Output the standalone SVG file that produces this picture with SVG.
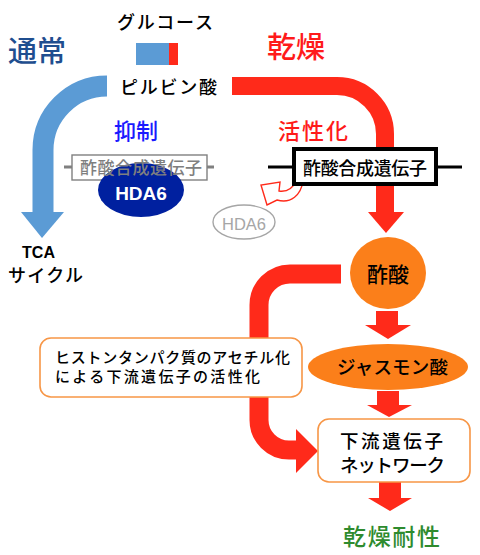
<svg xmlns="http://www.w3.org/2000/svg" width="480" height="555" viewBox="0 0 480 555">
<style>
.jp{font-family:"Noto Sans CJK JP","Noto Sans",sans-serif;font-weight:500;}
.lat{font-family:"Liberation Sans","Noto Sans",sans-serif;}
.band{fill:none;stroke-linecap:butt;}
.red{fill:#ff2a1a;}
.obox{fill:#fff;stroke:#f79646;stroke-width:1.6;}
.orange{fill:#fb7f1a;}
</style>
<rect width="480" height="555" fill="#fff"/>
<g id="labels">
<text class="jp" x="37" y="62" font-size="29" fill="#1f4e8f" text-anchor="middle">通常</text>
<text class="jp" x="296" y="58" font-size="29" fill="#ff1a1a" text-anchor="middle">乾燥</text>
<text class="jp" x="136" y="139" font-size="22" fill="#1a1aff" text-anchor="middle">抑制</text>
<text class="jp" x="313" y="139" font-size="22" fill="#ff1a1a" text-anchor="middle" textLength="70">活性化</text>
</g>
<g id="connectors">
<path class="band" d="M107,86 A64,64 0 0 0 43,150 L43,213" stroke="#5b9bd5" stroke-width="21"/>
<polygon points="21,212 64,212 42,238" fill="#5b9bd5"/>
<path class="band" d="M232,86 L337,86 A48,48 0 0 1 385,134 L385,213" stroke="#ff2a1a" stroke-width="18"/>
<polygon class="red" points="368,212 404,212 386,233"/>
<path class="band" d="M341,274 L290,274 A31,31 0 0 0 259,305 L259,420 A30,30 0 0 0 289,450 L297,450" stroke="#ff2a1a" stroke-width="19"/>
<polygon class="red" points="296,429 296,473 318,451"/>
<rect class="red" x="376" y="311" width="22" height="14"/>
<polygon class="red" points="365,325 411,325 388,339"/>
<rect class="red" x="377" y="391" width="22" height="14"/>
<polygon class="red" points="367,405 412,405 389,417"/>
<rect class="red" x="379" y="482" width="22" height="16"/>
<polygon class="red" points="368,498 412,498 390,511"/>
<path d="M303,181 C301,195 291,204 277,200 L267,205 L261,185 L280,182 L279,191 C287,192 293,188 296,181" fill="#fff" stroke="#ff2a1a" stroke-width="1.4"/>
</g>
<g id="glucose">
<text class="jp" x="165" y="29" font-size="18" text-anchor="middle" textLength="96">グルコース</text>
<rect x="136" y="43" width="33" height="22" fill="#5b9bd5"/>
<rect x="169" y="43" width="9" height="22" fill="#ff2a1a"/>
</g>
<g id="pyruvate">
<text class="jp" x="168.5" y="94" font-size="18" text-anchor="middle" textLength="97">ピルビン酸</text>
</g>
<g id="gene-normal">
<line x1="64" y1="167" x2="214" y2="167" stroke="#808080" stroke-width="3"/>
<rect x="72" y="155" width="135" height="25" fill="#fff" stroke="#808080" stroke-width="1.4"/>
</g>
<g id="hda6-bound">
<ellipse cx="141" cy="190" rx="43" ry="27" fill="#00209f"/>
<text class="lat" x="141" y="200" font-size="19" font-weight="bold" fill="#fff" text-anchor="middle">HDA6</text>
</g>
<text class="jp" x="141" y="174" font-size="17" fill="#7f7f7f" text-anchor="middle" textLength="122">酢酸合成遺伝子</text>
<g id="tca">
<text class="lat" x="38.5" y="258" font-size="16" font-weight="bold" text-anchor="middle">TCA</text>
<text class="jp" x="45.5" y="282" font-size="18" text-anchor="middle" textLength="75">サイクル</text>
</g>
<g id="gene-drought">
<line x1="268" y1="167" x2="462" y2="167" stroke="#000" stroke-width="3"/>
<rect x="294" y="149" width="142" height="35" fill="#fff" stroke="#000" stroke-width="4"/>
<text class="jp" x="365" y="175" font-size="18" text-anchor="middle" textLength="124">酢酸合成遺伝子</text>
</g>
<g id="hda6-released">
<ellipse cx="244" cy="222" rx="31" ry="17" fill="#fff" stroke="#a6a6a6" stroke-width="1.4"/>
<text class="lat" x="244" y="230" font-size="16.5" fill="#a6a6a6" text-anchor="middle">HDA6</text>
</g>
<g id="acetate">
<ellipse class="orange" cx="388" cy="273" rx="38" ry="36"/>
<text class="jp" x="388" y="282" font-size="21" text-anchor="middle">酢酸</text>
</g>
<g id="jasmonate">
<ellipse class="orange" cx="388" cy="367" rx="80" ry="23"/>
<text class="jp" x="392.5" y="374" font-size="18.5" text-anchor="middle" textLength="111">ジャスモン酸</text>
</g>
<g id="acetylation">
<rect class="obox" x="40" y="338" width="262" height="59" rx="11"/>
<text class="jp" x="55" y="363" font-size="15" textLength="235">ヒストンタンパク質のアセチル化</text>
<text class="jp" x="55" y="382" font-size="15" textLength="205">による下流遺伝子の活性化</text>
</g>
<g id="downstream">
<rect class="obox" x="318" y="419" width="152" height="63" rx="11"/>
<text class="jp" x="340" y="448" font-size="18.5" textLength="103">下流遺伝子</text>
<text class="jp" x="340" y="472" font-size="18.5" textLength="105">ネットワーク</text>
</g>
<g id="tolerance">
<text class="jp" x="391.5" y="545" font-size="23" fill="#2e8b2e" text-anchor="middle" textLength="97">乾燥耐性</text>
</g>
</svg>
